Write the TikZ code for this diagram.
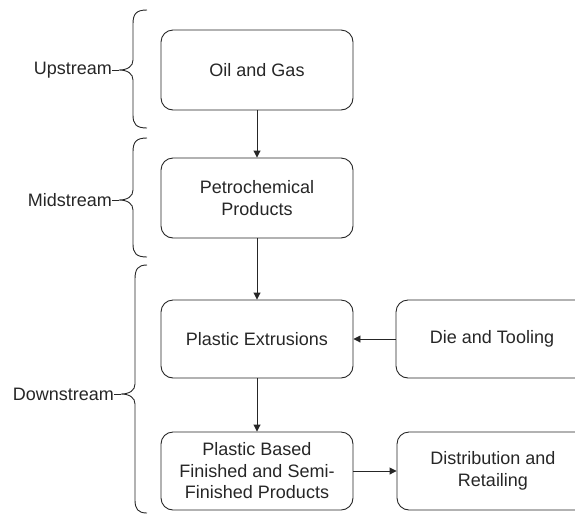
\documentclass[tikz,border=0pt]{standalone}
\usepackage{fontspec}
\setmainfont{Liberation Sans}
\usetikzlibrary{arrows.meta}
\begin{document}
\begin{tikzpicture}[x=1pt,y=-1pt,
  box/.style={draw=black!85,line width=0.9pt,rounded corners=12pt,minimum width=192pt,align=center,inner sep=2pt,font=\fontsize{18}{21.5}\selectfont,text=black!85},
  lbl/.style={anchor=east,inner sep=0pt,font=\fontsize{18}{21.5}\selectfont,text=black!85},
  conn/.style={draw=black!85,line width=0.9pt,-{Triangle[length=7pt,width=7pt]}},
  brace/.style={draw=black!85,line width=0.9pt}]
\useasboundingbox (0,0) rectangle (575,515);
\clip (0,0) rectangle (575,515);
\node[box,minimum height=80pt] (oil) at (257,70) {Oil and Gas};
\node[box,minimum height=80pt] (petro) at (257,198) {Petrochemical\\Products};
\node[box,minimum height=78pt] (extr) at (257,339) {Plastic Extrusions};
\node[box,minimum height=78pt] (die) at (492,339) {Die and Tooling};
\node[box,minimum height=78pt] (plast) at (257,471) {Plastic Based\\Finished and Semi-\\Finished Products};
\node[box,minimum height=78pt] (dist) at (493,471) {Distribution and\\Retailing};
\draw[conn] (oil.south) -- (petro.north);
\draw[conn] (petro.south) -- (extr.north);
\draw[conn] (extr.south) -- (plast.north);
\draw[conn] (die.west) -- (extr.east);
\draw[conn] (plast.east) -- (dist.west);
% braces
\node[lbl] (up) at (112,70) {Upstream};
\node[lbl] (mid) at (112,200) {Midstream};
\node[lbl] (down) at (114,394) {Downstream};
\coordinate (tu) at (119,70);
\coordinate (tm) at (119,200);
\coordinate (td) at (121,394);
\draw[brace] (up.east) -- (tu);
\draw[brace] (mid.east) -- (tm);
\draw[brace] (down.east) -- (td);
\draw[brace] (147,10) .. controls (136,10) and (133,14) .. (133,24) -- (133,60)
  .. controls (133,66) and (128,70) .. (tu) .. controls (128,70) and (133,74) .. (133,80)
  -- (133,115) .. controls (133,124) and (136,128) .. (147,128);
\draw[brace] (147,138) .. controls (136,138) and (133,142) .. (133,152) -- (133,190)
  .. controls (133,196) and (128,200) .. (tm) .. controls (128,200) and (133,204) .. (133,210)
  -- (133,244) .. controls (133,253) and (136,257) .. (147,257);
\draw[brace] (147,265) .. controls (138,265) and (135,269) .. (135,279) -- (135,384)
  .. controls (135,390) and (130,394) .. (td) .. controls (130,394) and (135,398) .. (135,404)
  -- (135,500) .. controls (135,509) and (138,513) .. (147,513);
\end{tikzpicture}
\end{document}
